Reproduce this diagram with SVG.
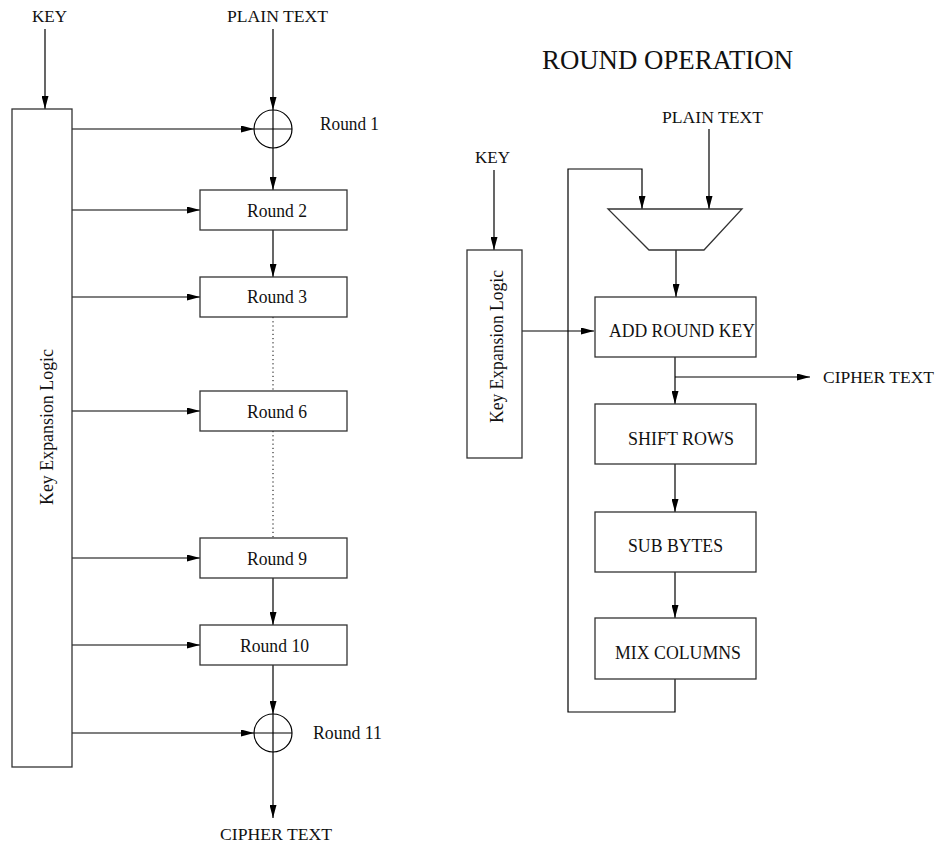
<svg xmlns="http://www.w3.org/2000/svg" width="936" height="844" viewBox="0 0 936 844">
  <style>
    text { font-family: "Liberation Serif", "Times New Roman", serif; font-size: 18.5px; fill: #111; }
    .io { font-size: 17.5px; }
    .box { fill: #fff; stroke: #333; stroke-width: 1.3; }
    .ln { fill: none; stroke: #000; stroke-width: 1.2; }
    .arr { fill: none; stroke: #000; stroke-width: 1.2; marker-end: url(#head); }
    .dot { fill: none; stroke: #000; stroke-width: 1; stroke-dasharray: 1.2 3; }
  </style>
  <defs>
    <marker id="head" markerUnits="userSpaceOnUse" markerWidth="13" markerHeight="7" refX="13" refY="3.5" orient="auto">
      <path d="M0,0 L13,3.5 L0,7 z" fill="#000"/>
    </marker>
  </defs>
  <rect width="936" height="844" fill="#fff"/>

  <!-- ============ Full cipher (left) ============ -->
  <g id="connectors-left">
    <line class="arr" x1="45" y1="29" x2="45" y2="109"/>
    <line class="arr" x1="273" y1="29" x2="273" y2="110"/>
    <line class="arr" x1="72" y1="129" x2="254" y2="129"/>
    <line class="arr" x1="273" y1="148" x2="273" y2="190"/>
    <line class="arr" x1="72" y1="210" x2="200" y2="210"/>
    <line class="arr" x1="273" y1="230" x2="273" y2="277"/>
    <line class="arr" x1="72" y1="297" x2="200" y2="297"/>
    <line class="dot" x1="273" y1="317" x2="273" y2="391"/>
    <line class="arr" x1="72" y1="411" x2="200" y2="411"/>
    <line class="dot" x1="273" y1="431" x2="273" y2="538"/>
    <line class="arr" x1="72" y1="558" x2="200" y2="558"/>
    <line class="arr" x1="273" y1="578" x2="273" y2="625"/>
    <line class="arr" x1="72" y1="645" x2="200" y2="645"/>
    <line class="arr" x1="273" y1="665" x2="273" y2="714"/>
    <line class="arr" x1="72" y1="733" x2="254" y2="733"/>
    <line class="arr" x1="273" y1="752" x2="273" y2="818"/>
  </g>

  <text class="io" x="32" y="22" textLength="35" lengthAdjust="spacingAndGlyphs">KEY</text>
  <text class="io" x="227" y="22" textLength="101" lengthAdjust="spacingAndGlyphs">PLAIN TEXT</text>
  <text class="io" x="220" y="840" textLength="112" lengthAdjust="spacingAndGlyphs">CIPHER TEXT</text>

  <g id="key-expansion-left">
    <rect class="box" x="12" y="109" width="60" height="658"/>
    <text transform="translate(53,505) rotate(-90)" textLength="156" lengthAdjust="spacingAndGlyphs">Key Expansion Logic</text>
  </g>

  <g id="xor-round1">
    <circle class="ln" cx="273" cy="129" r="19"/>
    <line class="ln" x1="254" y1="129" x2="292" y2="129"/>
    <line class="ln" x1="273" y1="110" x2="273" y2="148"/>
    <text x="320" y="130" textLength="59" lengthAdjust="spacingAndGlyphs">Round 1</text>
  </g>

  <g id="round2">
    <rect class="box" x="200" y="190" width="147" height="40"/>
    <text x="247" y="217" textLength="60" lengthAdjust="spacingAndGlyphs">Round 2</text>
  </g>
  <g id="round3">
    <rect class="box" x="200" y="277" width="147" height="40"/>
    <text x="247" y="303" textLength="60" lengthAdjust="spacingAndGlyphs">Round 3</text>
  </g>
  <g id="round6">
    <rect class="box" x="200" y="391" width="147" height="40"/>
    <text x="247" y="418" textLength="60" lengthAdjust="spacingAndGlyphs">Round 6</text>
  </g>
  <g id="round9">
    <rect class="box" x="200" y="538" width="147" height="40"/>
    <text x="247" y="565" textLength="60" lengthAdjust="spacingAndGlyphs">Round 9</text>
  </g>
  <g id="round10">
    <rect class="box" x="200" y="625" width="147" height="40"/>
    <text x="240" y="652" textLength="69" lengthAdjust="spacingAndGlyphs">Round 10</text>
  </g>

  <g id="xor-round11">
    <circle class="ln" cx="273" cy="733" r="19"/>
    <line class="ln" x1="254" y1="733" x2="292" y2="733"/>
    <line class="ln" x1="273" y1="714" x2="273" y2="752"/>
    <text x="313" y="739" textLength="69" lengthAdjust="spacingAndGlyphs">Round 11</text>
  </g>

  <!-- ============ Round operation (right) ============ -->
  <text x="542" y="69" style="font-size:27px" textLength="251" lengthAdjust="spacingAndGlyphs">ROUND OPERATION</text>
  <text class="io" x="662" y="123" textLength="101" lengthAdjust="spacingAndGlyphs">PLAIN TEXT</text>
  <text class="io" x="475" y="163" textLength="35" lengthAdjust="spacingAndGlyphs">KEY</text>

  <g id="connectors-right">
    <line class="arr" x1="494" y1="170" x2="494" y2="250"/>
    <line class="arr" x1="709" y1="129" x2="709" y2="209"/>
    <polyline class="arr" points="675,679 675,712 568,712 568,169 642,169 642,209"/>
    <line class="arr" x1="676" y1="250" x2="676" y2="297"/>
    <line class="arr" x1="522" y1="331" x2="594" y2="331"/>
    <line class="arr" x1="675" y1="357" x2="675" y2="404"/>
    <line class="arr" x1="675" y1="377" x2="810" y2="377"/>
    <line class="arr" x1="675" y1="464" x2="675" y2="512"/>
    <line class="arr" x1="675" y1="572" x2="675" y2="618"/>
  </g>

  <text class="io" x="823" y="383" textLength="111" lengthAdjust="spacingAndGlyphs">CIPHER TEXT</text>

  <g id="key-expansion-right">
    <rect class="box" x="467" y="250" width="55" height="208"/>
    <text transform="translate(503,423) rotate(-90)" textLength="153" lengthAdjust="spacingAndGlyphs">Key Expansion Logic</text>
  </g>

  <g id="mux">
    <polygon class="box" points="608,209 742,209 704,250 649,250"/>
  </g>

  <g id="add-round-key">
    <rect class="box" x="595" y="297" width="161" height="60"/>
    <text x="609" y="337" textLength="146" lengthAdjust="spacingAndGlyphs">ADD ROUND KEY</text>
  </g>
  <g id="shift-rows">
    <rect class="box" x="595" y="404" width="161" height="60"/>
    <text x="628" y="445" textLength="106" lengthAdjust="spacingAndGlyphs">SHIFT ROWS</text>
  </g>
  <g id="sub-bytes">
    <rect class="box" x="595" y="512" width="161" height="60"/>
    <text x="628" y="552" textLength="95" lengthAdjust="spacingAndGlyphs">SUB BYTES</text>
  </g>
  <g id="mix-columns">
    <rect class="box" x="595" y="618" width="161" height="61"/>
    <text x="615" y="659" textLength="126" lengthAdjust="spacingAndGlyphs">MIX COLUMNS</text>
  </g>
</svg>
